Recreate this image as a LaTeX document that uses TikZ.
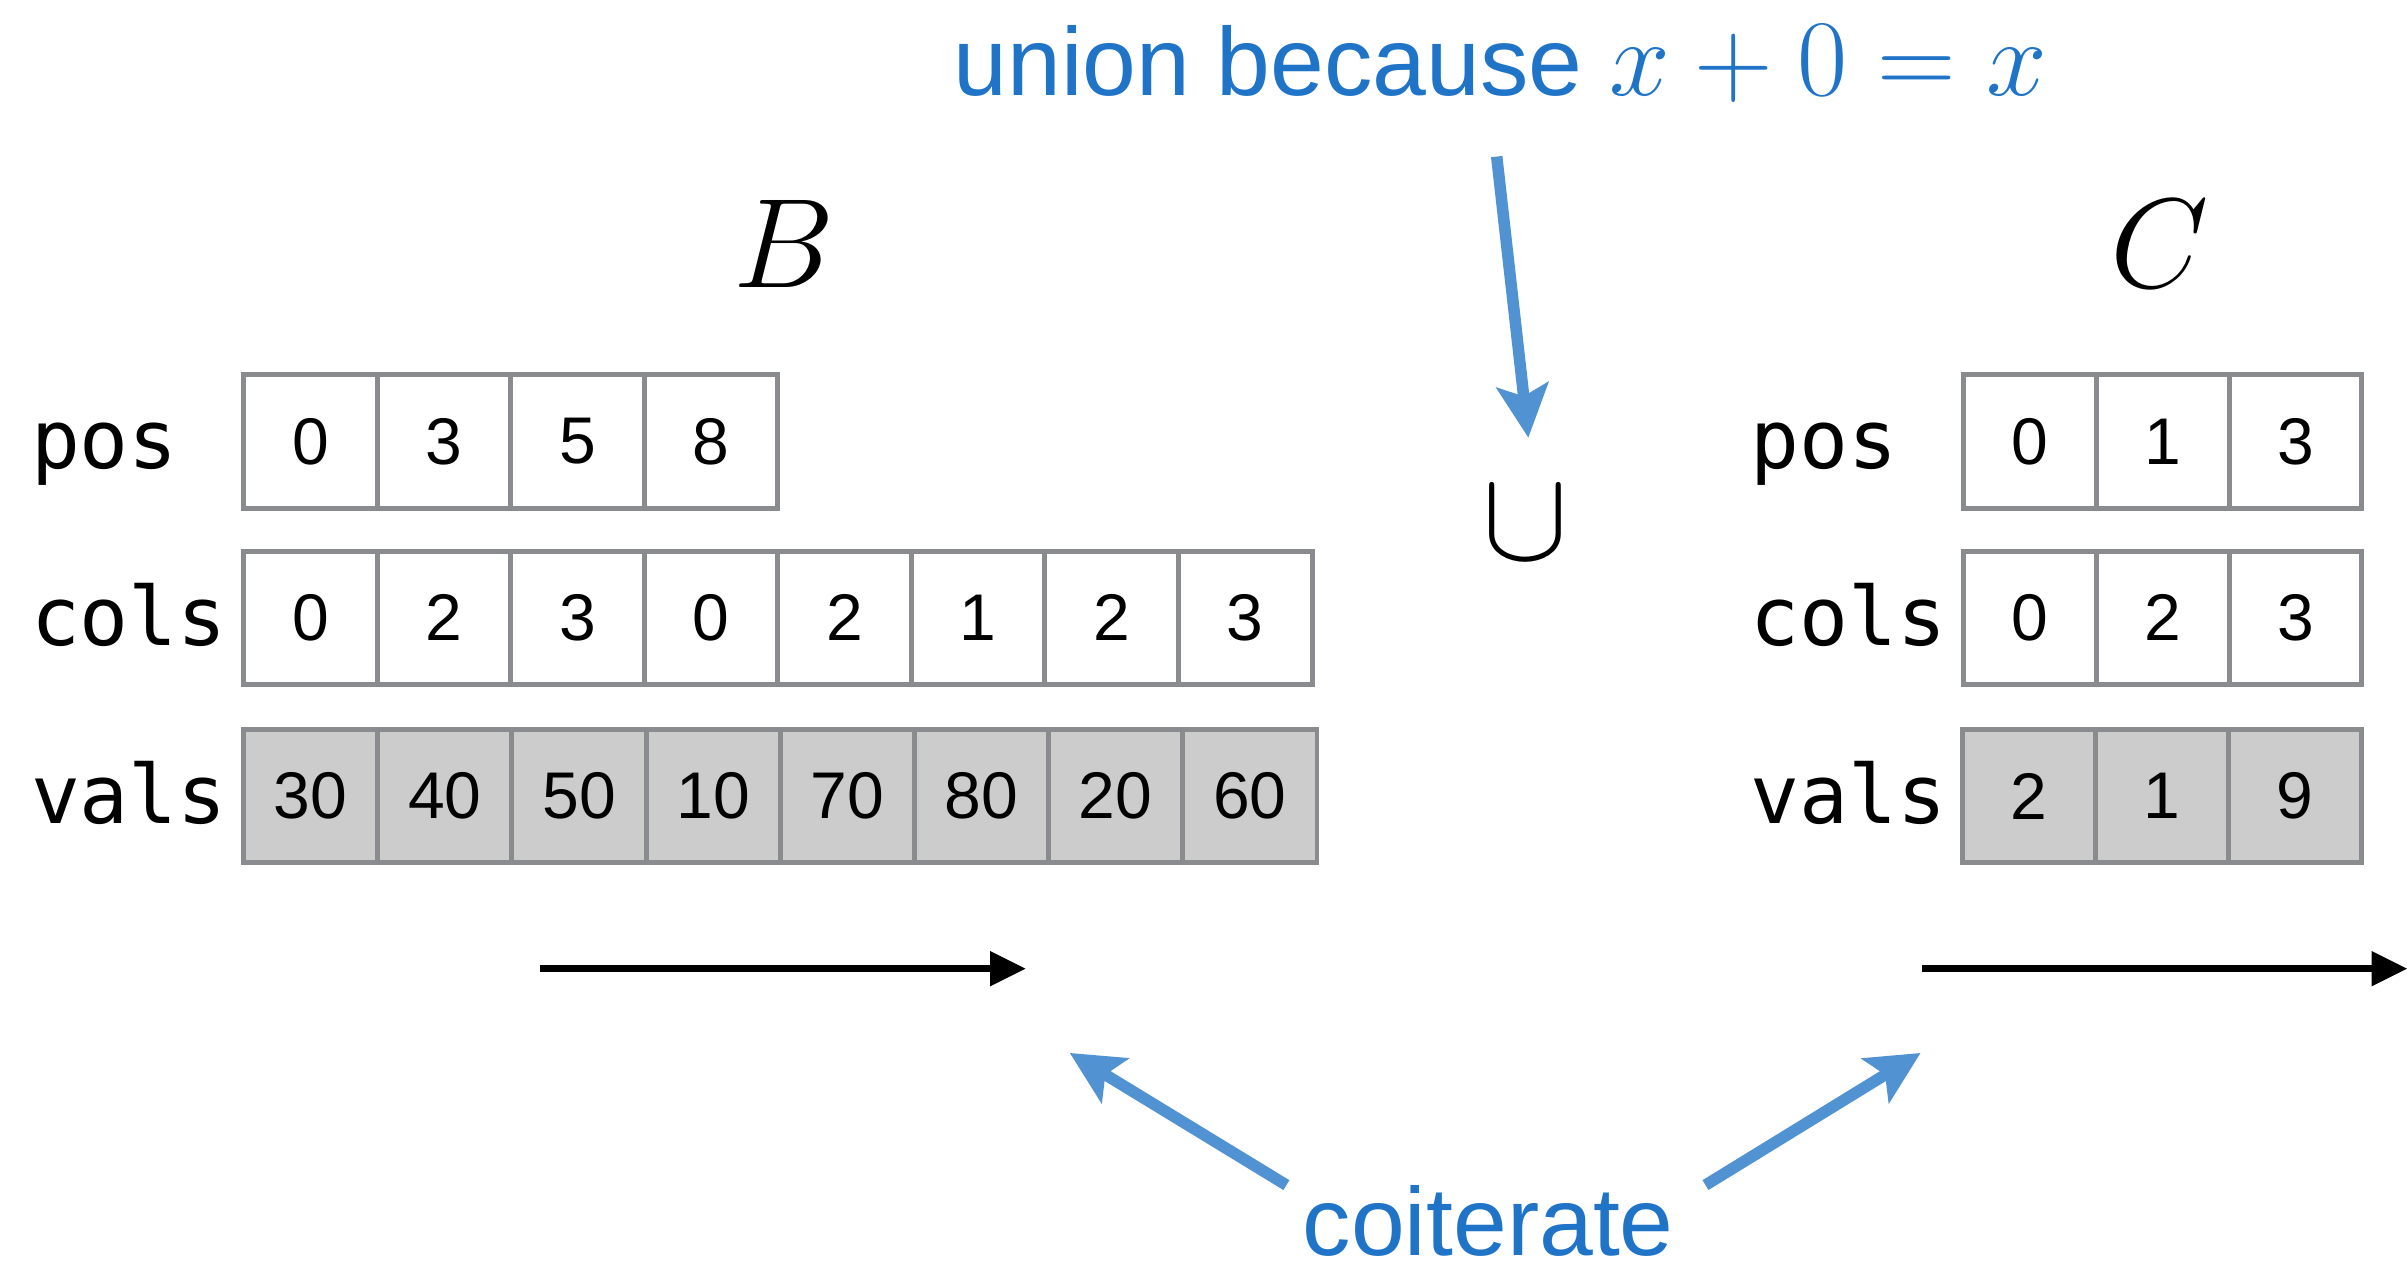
\RequirePackage{fix-cm}
\documentclass[tikz,border=0pt]{standalone}
\usepackage{fontspec}
\setmainfont{Liberation Sans}
\newfontfamily\monofont{DejaVu Sans Mono}
\usetikzlibrary{arrows.meta}

\definecolor{cellgray}{HTML}{898B8E}
\definecolor{valfill}{HTML}{CCCCCC}
\definecolor{noteblue}{HTML}{1F74C8}
\definecolor{arrowblue}{HTML}{5193D2}

\tikzset{
  cell/.style={draw=cellgray, line width=3.2pt, minimum height=87pt,
    inner sep=0pt, font=\fontsize{43}{50}\selectfont},
  valcell/.style={cell, fill=valfill},
  rowlabel/.style={anchor=base west, inner sep=0pt,
    font=\monofont\fontsize{53}{60}\selectfont},
  note/.style={text=noteblue, anchor=base west, inner sep=0pt,
    font=\fontsize{63}{70}\selectfont},
  matname/.style={anchor=base, inner sep=0pt, font=\fontsize{83}{90}\selectfont},
  pointer/.style={draw=arrowblue, line width=7.5pt,
    -{Stealth[length=35pt,width=35pt,inset=8pt,line width=0pt]}},
  sweep/.style={draw=black, line width=5pt,
    -{Triangle[length=23pt,width=23pt,line width=0pt]}},
}
\newcommand{\cellnum}[1]{\raisebox{-2pt}{#1}}

\begin{document}
\begin{tikzpicture}[x=1pt, y=-1pt]
  \fill[white] (0,0) rectangle (1568,823);
  \useasboundingbox (0,0) rectangle (1568,823);

  % matrix names
  \node[matname] (Bname) at (511,187) {$B$};
  \node[matname] (Cname) at (1407,187) {$C$};

  % row labels of B
  \node[rowlabel] (Bposlab)  at (20,305.5) {pos};
  \node[rowlabel] (Bcolslab) at (20,420.5) {cols};
  \node[rowlabel] (Bvalslab) at (20,536.5) {vals};

  % row labels of C
  \node[rowlabel] (Cposlab)  at (1140,305.5) {pos};
  \node[rowlabel] (Ccolslab) at (1140,420.5) {cols};
  \node[rowlabel] (Cvalslab) at (1140,536.5) {vals};

  % arrays of B
  \foreach \v [count=\i from 0] in {0,3,5,8}
    \node[cell, minimum width=87pt] (Bpos\i) at (202.2+87*\i,287.5) {\cellnum{\v}};
  \foreach \v [count=\i from 0] in {0,2,3,0,2,1,2,3}
    \node[cell, minimum width=87pt] (Bcols\i) at (202.2+87*\i,402.5) {\cellnum{\v}};
  \foreach \v [count=\i from 0] in {30,40,50,10,70,80,20,60}
    \node[valcell, minimum width=87.4pt] (Bvals\i) at (202.4+87.4*\i,518.5) {\cellnum{\v}};

  % arrays of C
  \foreach \v [count=\i from 0] in {0,1,3}
    \node[cell, minimum width=86.4pt] (Cpos\i) at (1322.5+86.4*\i,287.5) {\cellnum{\v}};
  \foreach \v [count=\i from 0] in {0,2,3}
    \node[cell, minimum width=86.4pt] (Ccols\i) at (1322.5+86.4*\i,402.5) {\cellnum{\v}};
  \foreach \v [count=\i from 0] in {2,1,9}
    \node[valcell, minimum width=86.6pt] (Cvals\i) at (1321.9+86.6*\i,518.5) {\cellnum{\v}};

  % union sign and its note
  \node[inner sep=0pt, font=\fontsize{84}{90}\selectfont] (cup) at (993.5,341) {$\cup$};
  \node[note] (why) at (621,62)
    {union because {\fontsize{71}{78}\selectfont$x+0=x$}};
  \coordinate (whytail) at (975,102);
  \coordinate (whytip) at (995.6,285);
  \draw[pointer] (whytail) -- (whytip);

  % traversal direction of each matrix
  \coordinate (Bsweepstart) at (352,631);
  \coordinate (Bsweepend) at (668,631);
  \coordinate (Csweepstart) at (1252,631);
  \coordinate (Csweepend) at (1568,631);
  \draw[sweep] (Bsweepstart) -- (Bsweepend);
  \draw[sweep] (Csweepstart) -- (Csweepend);

  % coiteration note
  \node[note] (coit) at (848.5,818) {coiterate};
  \coordinate (coitL) at (838,772);
  \coordinate (coitR) at (1111,772);
  \coordinate (coitLtip) at (697,686);
  \coordinate (coitRtip) at (1251,686);
  \draw[pointer] (coitL) -- (coitLtip);
  \draw[pointer] (coitR) -- (coitRtip);
\end{tikzpicture}
\end{document}
